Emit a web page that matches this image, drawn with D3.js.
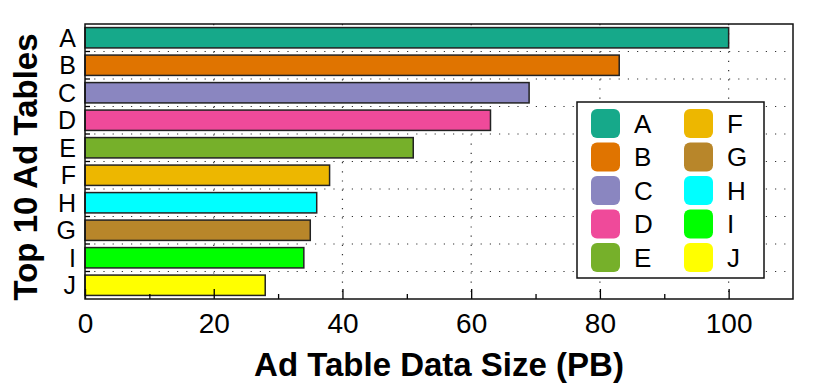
<!DOCTYPE html>
<html lang="en">
<head>
<meta charset="UTF-8">
<title>Top 10 Ad Tables</title>
<script src="https://cdn.jsdelivr.net/npm/d3@7"></script>
<style>
  body { margin: 0; background: #fff; }
  text { font-family: "Liberation Sans", Arial, sans-serif; fill: #000; }
</style>
</head>
<body>
<div id="root"></div>
<script>
// data, top to bottom as drawn
var tables = ['A', 'B', 'C', 'D', 'E', 'F', 'H', 'G', 'I', 'J']
var sizes = [100, 83, 69, 63, 51, 38, 36, 35, 34, 28]
var xTicks = [0, 20, 40, 60, 80, 100]
var xMinor = [10, 30, 50, 70, 90]

// legend order
var legendKeys = ['A', 'B', 'C', 'D', 'E', 'F', 'G', 'H', 'I', 'J']
var colorList = ['#16a98a', '#e07400', '#8a86c0', '#ef4a9a', '#76b02a',
                 '#edb700', '#b8862a', '#00ffff', '#00ff00', '#ffff00']

var width = 829, height = 392
var m = {left: 85, right: 36, top: 24, bottom: 93}

var svg = d3.select('#root').append('svg')
    .attr('width', width)
    .attr('height', height)

var x = d3.scaleLinear().domain([0, 110]).range([m.left, width - m.right])
var y = d3.scaleBand().domain(tables).range([m.top, height - m.bottom]).paddingInner(0.26).paddingOuter(0.13)
var color = d3.scaleOrdinal().domain(legendKeys).range(colorList)

var rowEdge = d3.range(1, tables.length).map(function(i) { return m.top + i * (height - m.bottom - m.top) / tables.length })

// grid
svg.append('g').selectAll('line.h')
    .data(rowEdge).enter().append('line')
    .attr('x1', x(0)).attr('x2', x(110))
    .attr('y1', function(d) { return d }).attr('y2', function(d) { return d })
    .attr('stroke', '#333').attr('stroke-width', 1.2)
    .attr('stroke-dasharray', '1.2,8')

svg.append('g').selectAll('line.v')
    .data(xTicks.slice(1)).enter().append('line')
    .attr('x1', function(d) { return x(d) }).attr('x2', function(d) { return x(d) })
    .attr('y1', m.top).attr('y2', height - m.bottom)
    .attr('stroke', '#333').attr('stroke-width', 1.2)
    .attr('stroke-dasharray', '1.2,8')

// bars
svg.append('g').selectAll('rect')
    .data(tables).enter().append('rect')
    .attr('x', x(0))
    .attr('y', function(d) { return y(d) })
    .attr('width', function(d, i) { return x(sizes[i]) - x(0) })
    .attr('height', y.bandwidth())
    .attr('fill', function(d) { return color(d) })
    .attr('stroke', '#222')
    .attr('stroke-width', 1.5)

// bottom axis, ticks pointing in
var xAxis = svg.append('g')
    .attr('transform', 'translate(0,' + (height - m.bottom) + ')')
    .call(d3.axisBottom(x).tickValues(xTicks).tickSizeInner(-10).tickSizeOuter(0).tickPadding(14))
xAxis.select('.domain').remove()
xAxis.selectAll('.tick line').attr('stroke', '#000').attr('stroke-width', 1.3)
xAxis.selectAll('text').style('font-size', '28px')

var xMinorAxis = svg.append('g')
    .attr('transform', 'translate(0,' + (height - m.bottom) + ')')
    .call(d3.axisBottom(x).tickValues(xMinor).tickSizeInner(-5).tickSizeOuter(0).tickFormat(''))
xMinorAxis.select('.domain').remove()
xMinorAxis.selectAll('.tick line').attr('stroke', '#000').attr('stroke-width', 1.3)

// left axis labels
var yAxis = svg.append('g')
    .attr('transform', 'translate(' + m.left + ',0)')
    .call(d3.axisLeft(y).tickSize(0).tickPadding(9))
yAxis.select('.domain').remove()
yAxis.selectAll('text').style('font-size', '25px').attr('dy', '0.36em')

// small ticks on row edges
svg.append('g').selectAll('line.rt')
    .data(rowEdge).enter().append('line')
    .attr('x1', x(0)).attr('x2', x(0) + 5)
    .attr('y1', function(d) { return d }).attr('y2', function(d) { return d })
    .attr('stroke', '#000').attr('stroke-width', 1.3)

// frame
svg.append('rect')
    .attr('x', x(0)).attr('y', m.top)
    .attr('width', x(110) - x(0)).attr('height', height - m.bottom - m.top)
    .attr('fill', 'none').attr('stroke', '#111').attr('stroke-width', 1.5)

// axis titles
svg.append('text')
    .attr('x', 439).attr('y', 376)
    .attr('text-anchor', 'middle')
    .style('font-size', '33px').style('font-weight', 'bold')
    .text('Ad Table Data Size (PB)')

svg.append('text')
    .attr('transform', 'translate(37,167) rotate(-90)')
    .attr('text-anchor', 'middle')
    .style('font-size', '33px').style('font-weight', 'bold')
    .text('Top 10 Ad Tables')

// legend
var lg = svg.append('g').attr('transform', 'translate(577,102)')
lg.append('rect')
    .attr('width', 187).attr('height', 176)
    .attr('fill', '#fff').attr('stroke', '#111').attr('stroke-width', 1.5)

var items = lg.selectAll('g.item')
    .data(legendKeys).enter().append('g')
    .attr('transform', function(d, i) {
        return 'translate(' + (14 + Math.floor(i / 5) * 93) + ',' + (7 + (i % 5) * 33.5) + ')'
    })
items.append('rect')
    .attr('width', 29).attr('height', 29).attr('rx', 6)
    .attr('fill', function(d) { return color(d) })
items.append('text')
    .attr('x', 43).attr('y', 14.5).attr('dy', '0.36em')
    .style('font-size', '26px')
    .text(function(d) { return d })
</script>
</body>
</html>
